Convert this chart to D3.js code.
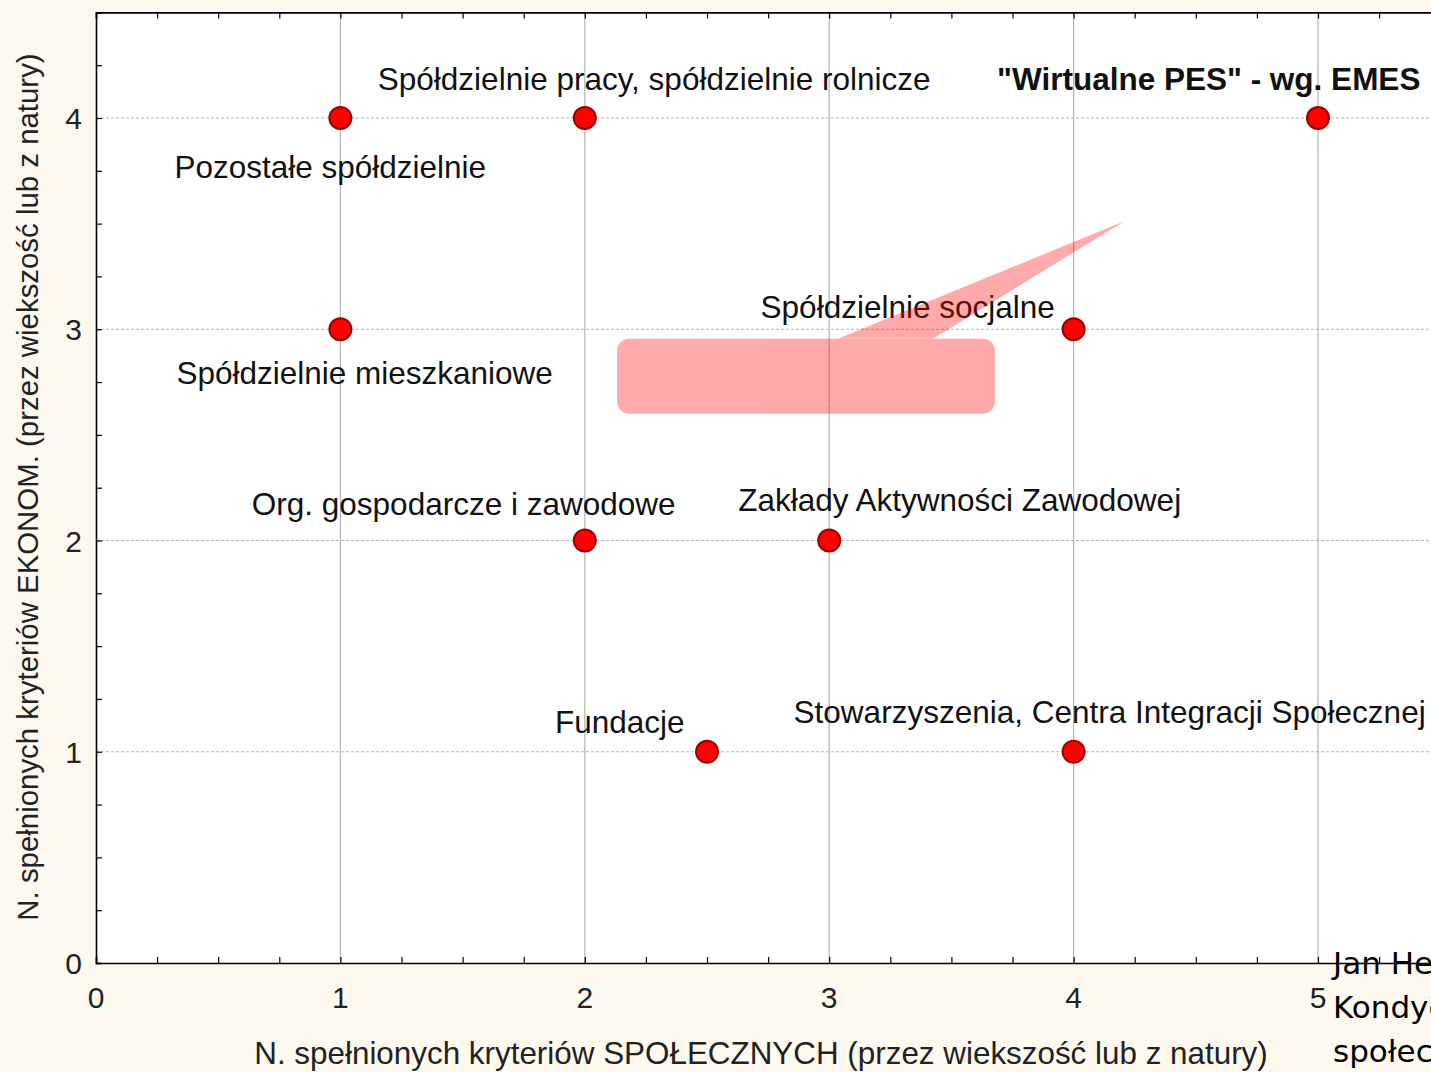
<!DOCTYPE html>
<html><head><meta charset="utf-8">
<script src="https://cdn.jsdelivr.net/npm/d3@7"></script>
<style>
html,body{margin:0;padding:0;background:#fdf9ef;overflow:hidden;}
svg{display:block;}
</style></head>
<body>
<script>
// ---- data ----
const labels = [
  "Pozostałe spółdzielnie",
  "Spółdzielnie pracy, spółdzielnie rolnicze",
  "\"Wirtualne PES\" - wg. EMES",
  "Spółdzielnie mieszkaniowe",
  "Spółdzielnie socjalne",
  "Org. gospodarcze i zawodowe",
  "Zakłady Aktywności Zawodowej",
  "Fundacje",
  "Stowarzyszenia, Centra Integracji Społecznej"
];
const socialCriteria = [1, 2, 5, 1, 4, 2, 3, 2.5, 4];
const economicCriteria = [4, 4, 4, 3, 3, 2, 2, 1, 1];
const xTicks = [0, 1, 2, 3, 4, 5];
const yTicks = [0, 1, 2, 3, 4];
const xTitle = "N. spełnionych kryteriów SPOŁECZNYCH (przez wiekszość lub z natury)";
const yTitle = "N. spełnionych kryteriów EKONOM. (przez wiekszość lub z natury)";
const footerLines = ["Jan Herbst", "Kondycja sektora", "społecznego"];

// ---- layout (separate from data) ----
const W = 1431, H = 1072;
const labelOffsets = [[-166, 60], [-207, -28], [-321, -28], [-164, 55], [-313, -11], [-333, -26], [-91, -30], [-152, -19], [-280, -29]];
const boldLabel = [false, false, true, false, false, false, false, false, false];

const svg = d3.select("body").append("svg").attr("width", W).attr("height", H);
const x = d3.scaleLinear().domain([0, 5.5]).range([96, 96 + 5.5 * 244.4]);
const y = d3.scaleLinear().domain([0, 4.5]).range([963, 963 - 4.5 * 211.25]);

const font = "'Liberation Sans', Arial, Helvetica, sans-serif";

// plot area
svg.append("rect").attr("x", x(0)).attr("y", y(4.5)).attr("width", x(5.5) - x(0)).attr("height", y(0) - y(4.5)).attr("fill", "#ffffff");

// grid
svg.append("g").selectAll("line").data(xTicks.filter(d => d > 0)).join("line")
  .attr("x1", d => x(d)).attr("x2", d => x(d)).attr("y1", y(4.5)).attr("y2", y(0))
  .attr("stroke", "#b4b4b4").attr("stroke-width", 1.2);
svg.append("g").selectAll("line").data(yTicks.filter(d => d > 0)).join("line")
  .attr("x1", x(0)).attr("x2", x(5.5)).attr("y1", d => y(d)).attr("y2", d => y(d))
  .attr("stroke", "#b4b4b4").attr("stroke-width", 1).attr("stroke-dasharray", "3,2");

// axes with inner ticks
const minorX = d3.range(0, 5.51, 0.25);
const minorY = d3.range(0, 4.51, 0.25);
const xAxisB = d3.axisBottom(x).tickValues(minorX).tickSize(-6).tickFormat("");
const xAxisT = d3.axisTop(x).tickValues(minorX).tickSize(-6).tickFormat("");
const yAxisL = d3.axisLeft(y).tickValues(minorY).tickSize(-6).tickFormat("");
function styleAxis(g) {
  g.select(".domain").attr("stroke", "#000").attr("stroke-width", 1.6);
  g.selectAll(".tick line").attr("stroke", "#000").attr("stroke-width", 1.2);
}
svg.append("g").attr("transform", `translate(0,${y(0)})`).call(xAxisB).call(styleAxis);
svg.append("g").attr("transform", `translate(0,${y(4.5)})`).call(xAxisT).call(styleAxis);
svg.append("g").attr("transform", `translate(${x(0)},0)`).call(yAxisL).call(styleAxis);
// major tick labels
svg.append("g").selectAll("text").data(xTicks).join("text")
  .attr("x", d => x(d)).attr("y", 1008).attr("text-anchor", "middle")
  .attr("font-family", font).attr("font-size", 30).attr("fill", "#222").text(d => d);
svg.append("g").selectAll("text").data(yTicks).join("text")
  .attr("x", 82).attr("y", d => y(d) + 11).attr("text-anchor", "end")
  .attr("font-family", font).attr("font-size", 30).attr("fill", "#222").text(d => d);

// axis titles
svg.append("text").attr("x", 761).attr("y", 1064).attr("text-anchor", "middle")
  .attr("font-family", font).attr("font-size", 31.4).attr("fill", "#222").text(xTitle);
svg.append("text").attr("transform", `translate(38,${487}) rotate(-90)`).attr("text-anchor", "middle")
  .attr("font-family", font).attr("font-size", 29.4).attr("fill", "#222").text(yTitle);

// labels
const pts = labels.map((l, i) => ({ l, sx: socialCriteria[i], ey: economicCriteria[i], i }));
svg.append("g").selectAll("text").data(pts).join("text")
  .attr("x", d => x(d.sx) + labelOffsets[d.i][0])
  .attr("y", d => y(d.ey) + labelOffsets[d.i][1])
  .attr("font-family", font).attr("font-size", 31.5)
  .attr("font-weight", d => boldLabel[d.i] ? "bold" : "normal")
  .attr("fill", "#111").text(d => d.l);

// points
svg.append("g").selectAll("circle").data(pts).join("circle")
  .attr("cx", d => x(d.sx)).attr("cy", d => y(d.ey)).attr("r", 11)
  .attr("fill", "#ff0000").attr("stroke", "#9a0000").attr("stroke-width", 2);

// callout annotation (data units)
const callRect = { x0: 2.132, x1: 3.678, y0: 2.955, y1: 2.6 };
const callTip = [[3.036, 2.955], [4.21, 3.513], [3.425, 2.955]];
const callout = svg.append("g").attr("opacity", 0.33);
callout.append("rect").attr("x", x(callRect.x0)).attr("y", y(callRect.y0))
  .attr("width", x(callRect.x1) - x(callRect.x0)).attr("height", y(callRect.y1) - y(callRect.y0))
  .attr("rx", 12).attr("fill", "#ff0000");
callout.append("path").attr("d", d3.line().x(d => x(d[0])).y(d => y(d[1]))(callTip) + "Z").attr("fill", "#ff0000");

// footer (cut off at the right edge, as in the reference)
svg.append("g").selectAll("text").data(footerLines).join("text")
  .attr("x", 1333).attr("y", (d, i) => 974 + i * 44)
  .attr("font-family", "'DejaVu Sans', Verdana, sans-serif").attr("font-size", 31).attr("fill", "#000").text(d => d);
</script>
</body></html>
